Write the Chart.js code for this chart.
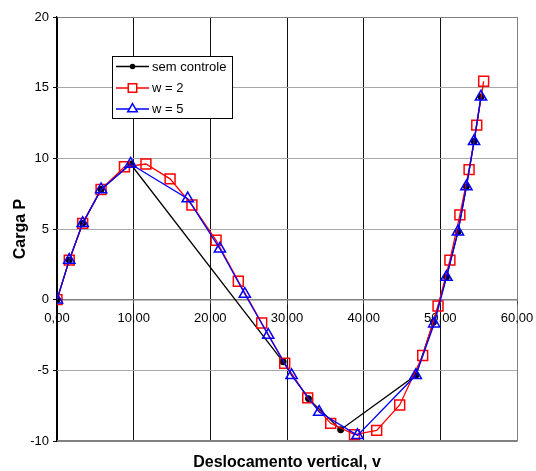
<!DOCTYPE html>
<html>
<head>
<meta charset="utf-8">
<script src="https://cdn.jsdelivr.net/npm/chart.js@4/dist/chart.umd.min.js"></script>
<style>
  html, body { margin: 0; padding: 0; background: #ffffff; }
  #wrap { width: 536px; height: 471px; }
</style>
</head>
<body>
<div id="wrap"><canvas id="c" width="536" height="471"></canvas></div>
<script>
// ---- Data ----
const seriesNames = ["sem controle", "w = 2", "w = 5"];

const xSemControle = [0, 1.6, 3.35, 5.75, 9.6, 29.5, 32.8, 37.0, 46.8, 49.1, 50.8, 52.3, 53.4, 54.4, 55.3];
const ySemControle = [0, 2.8, 5.4, 7.8, 9.6, -4.4, -7.0, -9.2, -5.35, -1.6, 1.6, 4.8, 8.0, 11.2, 14.35];

const xW2 = [0, 1.6, 3.35, 5.75, 8.8, 11.6, 14.75, 17.6, 20.75, 23.65, 26.7, 29.7, 32.7, 35.7, 38.8, 41.7, 44.7, 47.7, 49.7, 51.25, 52.55, 53.75, 54.75, 55.65];
const yW2 = [0, 2.8, 5.4, 7.8, 9.4, 9.6, 8.55, 6.7, 4.2, 1.3, -1.65, -4.5, -6.95, -8.75, -9.55, -9.25, -7.45, -3.95, -0.45, 2.8, 6.0, 9.2, 12.35, 15.45];

const xW5 = [0, 1.6, 3.35, 5.75, 9.6, 17.05, 21.25, 24.5, 27.55, 30.6, 34.2, 39.2, 46.8, 49.2, 50.8, 52.3, 53.4, 54.4, 55.3];
const yW5 = [0, 2.8, 5.4, 7.8, 9.6, 7.15, 3.6, 0.4, -2.5, -5.35, -7.95, -9.6, -5.35, -1.7, 1.6, 4.8, 8.0, 11.2, 14.35];

const xTickValues = [0, 10, 20, 30, 40, 50, 60];
const xTickLabels = ["0,00", "10,00", "20,00", "30,00", "40,00", "50,00", "60,00"];
const yTickLabels = ["-10", "-5", "0", "5", "10", "15", "20"];

const xTitle = "Deslocamento vertical, v";
const yTitle = "Carga P";

// ---- helpers ----
function pts(xs, ys) { return xs.map((x, i) => ({ x: x, y: ys[i] })); }

const colors = ["#000000", "#ff0000", "#0000ff"];
const FONT = '"Liberation Sans", Arial, sans-serif';

// custom legend drawn inside the plot, like the reference
const insideLegend = {
  id: 'insideLegend',
  afterDraw(chart) {
    const ctx = chart.ctx;
    const bx = 112.5, by = 56.5, bw = 120, bh = 62;
    ctx.save();
    ctx.fillStyle = '#ffffff';
    ctx.fillRect(bx, by, bw, bh);
    ctx.strokeStyle = '#000000';
    ctx.lineWidth = 1;
    ctx.strokeRect(bx, by, bw, bh);
    const rows = [66.5, 88, 109];
    chart.data.datasets.forEach((ds, i) => {
      const y = rows[i];
      ctx.strokeStyle = ds.borderColor;
      ctx.lineWidth = 1.3;
      ctx.beginPath();
      ctx.moveTo(116, y);
      ctx.lineTo(149, y);
      ctx.stroke();
      ctx.fillStyle = i === 0 ? '#000000' : '#ffffff';
      ctx.strokeStyle = ds.borderColor;
      ctx.lineWidth = 1.5;
      Chart.helpers.drawPoint(ctx, {
        pointStyle: ds.pointStyle,
        radius: i === 0 ? 2.8 : (i === 1 ? 6 : 5.5),
        borderWidth: i === 0 ? 0 : 1.5,
        rotation: 0
      }, 132.5, y);
      ctx.fillStyle = '#000000';
      ctx.font = '13px ' + FONT;
      ctx.textBaseline = 'middle';
      ctx.textAlign = 'left';
      ctx.fillText(seriesNames[i], 152, y + 0.5);
    });
    ctx.restore();
  }
};

const chart = new Chart(document.getElementById('c'), {
  type: 'line',
  data: {
    datasets: [
      {
        label: seriesNames[0],
        data: pts(xSemControle, ySemControle),
        borderColor: colors[0],
        backgroundColor: colors[0],
        pointBackgroundColor: '#000000',
        pointBorderColor: '#000000',
        pointStyle: 'circle',
        pointRadius: 2.8,
        borderWidth: 1.3,
        tension: 0,
        order: 2
      },
      {
        label: seriesNames[1],
        data: pts(xW2, yW2),
        borderColor: colors[1],
        backgroundColor: 'rgba(0,0,0,0)',
        pointBackgroundColor: 'rgba(0,0,0,0)',
        pointBorderColor: colors[1],
        pointStyle: 'rect',
        pointRadius: 7,
        pointBorderWidth: 1.5,
        borderWidth: 1.3,
        tension: 0,
        order: 1
      },
      {
        label: seriesNames[2],
        data: pts(xW5, yW5),
        borderColor: colors[2],
        backgroundColor: 'rgba(0,0,0,0)',
        pointBackgroundColor: 'rgba(0,0,0,0)',
        pointBorderColor: colors[2],
        pointStyle: 'triangle',
        pointRadius: 6.5,
        pointBorderWidth: 1.5,
        borderWidth: 1.3,
        tension: 0,
        order: 0
      }
    ]
  },
  options: {
    responsive: false,
    animation: false,
    events: [],
    layout: { padding: { left: 0, top: 17, right: 19, bottom: 0 } },
    plugins: {
      legend: { display: false },
      tooltip: { enabled: false }
    },
    scales: {
      x: {
        type: 'linear',
        position: 'bottom',
        min: 0,
        max: 60,
        afterBuildTicks: (s) => { s.ticks = xTickValues.map(v => ({ value: v })); },
        ticks: { display: false },
        grid: {
          drawTicks: false,
          lineWidth: 1,
          color: (c) => (c.tick && c.tick.value === 60) ? '#808080' : (c.tick && c.tick.value === 0 ? '#000000' : '#111111')
        },
        border: { display: true, color: '#808080', width: 1.5 },
        title: {
          display: true,
          text: xTitle,
          color: '#000000',
          font: { family: FONT, size: 16, weight: 'bold' },
          padding: { top: 0, bottom: -1.5 }
        },
        afterFit: (s) => { s.height = 30; s.paddingLeft = 0; s.paddingRight = 0; }
      },
      x2: {
        type: 'linear',
        position: { y: 0 },
        min: 0,
        max: 60,
        afterBuildTicks: (s) => { s.ticks = xTickValues.map(v => ({ value: v })); },
        ticks: {
          color: '#000000',
          font: { family: FONT, size: 13 },
          padding: 7,
          maxRotation: 0,
          autoSkip: false,
          callback: (v) => xTickLabels[xTickValues.indexOf(v)]
        },
        grid: { drawOnChartArea: false, drawTicks: true, tickLength: 4, color: '#404040' },
        border: { display: true, color: '#808080', width: 1.5 },
        afterFit: (s) => { s.paddingLeft = 0; s.paddingRight = 0; s.paddingTop = 0; s.paddingBottom = 0; }
      },
      y: {
        type: 'linear',
        min: -10,
        max: 20,
        ticks: {
          stepSize: 5,
          color: '#000000',
          font: { family: FONT, size: 13 },
          padding: 4,
          callback: (v) => yTickLabels[(v + 10) / 5]
        },
        grid: {
          lineWidth: 1,
          tickLength: 4,
          tickColor: '#000000',
          color: (c) => {
            if (!c.tick) return '#a0a0a0';
            if (c.tick.value === 20 || c.tick.value === -10) return '#808080';
            return '#a8a8a8';
          }
        },
        border: { display: true, color: '#000000', width: 1.2 },
        title: {
          display: true,
          text: yTitle,
          color: '#000000',
          font: { family: FONT, size: 16, weight: 'bold' },
          padding: { top: 11, bottom: 0 }
        },
        afterFit: (s) => { s.width = 57; s.paddingTop = 0; s.paddingBottom = 0; }
      }
    }
  },
  plugins: [insideLegend]
});
</script>
</body>
</html>
